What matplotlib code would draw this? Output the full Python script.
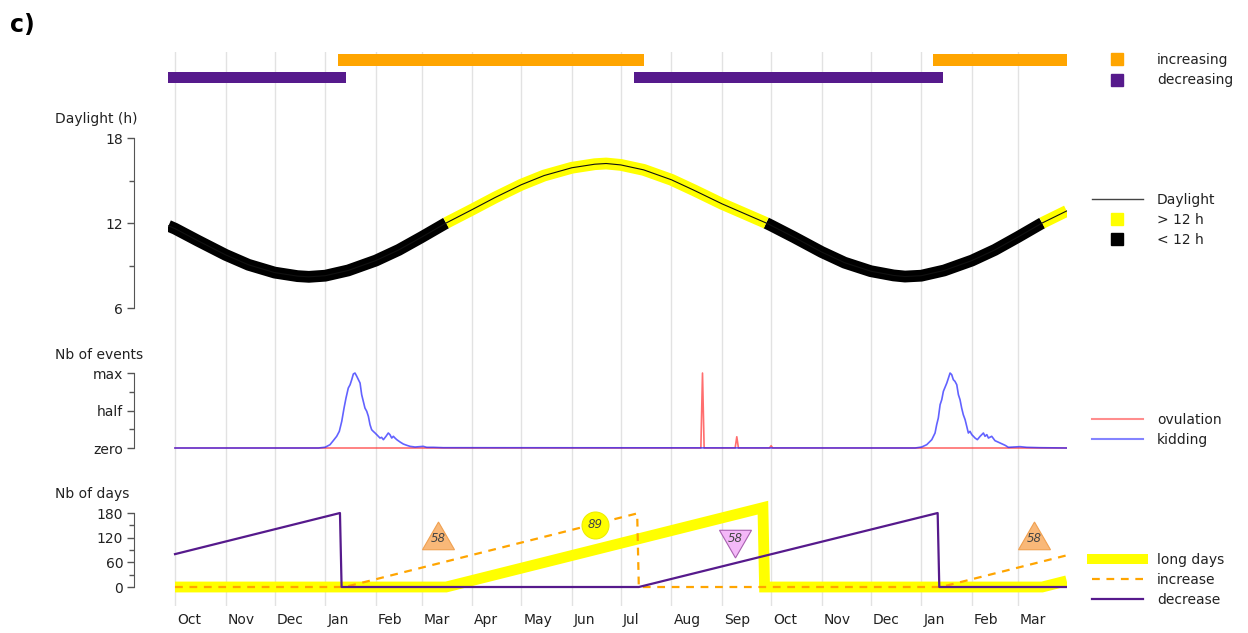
import numpy as np
import matplotlib
matplotlib.use('Agg')
import matplotlib.pyplot as plt
from matplotlib.lines import Line2D
from matplotlib.transforms import ScaledTranslation

# ---------------- data ----------------
T0 = np.datetime64('2021-10-01')          # day 0 of the x axis

def days(dates):
    return (np.array(dates, dtype='datetime64[D]') - T0).astype(float)

month_labels = ['Oct', 'Nov', 'Dec', 'Jan', 'Feb', 'Mar', 'Apr', 'May', 'Jun',
                'Jul', 'Aug', 'Sep', 'Oct', 'Nov', 'Dec', 'Jan', 'Feb', 'Mar']
month_starts = np.arange(np.datetime64('2021-10'), np.datetime64('2023-04'),
                         dtype='datetime64[M]').astype('datetime64[D]')

# phase bars
inc_start = ['2022-01-09', '2023-01-08']
inc_end = ['2022-07-15', '2023-03-31']
dec_start = ['2021-09-27', '2022-07-09']
dec_end = ['2022-01-14', '2023-01-14']

# daylight (hours)
daylight_dates = ['2021-09-27', '2021-10-01', '2021-10-15', '2021-11-01', '2021-11-15',
                  '2021-12-01', '2021-12-15', '2021-12-22', '2022-01-01', '2022-01-15',
                  '2022-02-01', '2022-02-15', '2022-03-01', '2022-03-16', '2022-04-01',
                  '2022-04-15', '2022-05-01', '2022-05-15', '2022-06-01', '2022-06-15',
                  '2022-06-22', '2022-07-01', '2022-07-15', '2022-08-01', '2022-08-15',
                  '2022-09-01', '2022-09-15', '2022-09-28', '2022-10-01', '2022-10-15',
                  '2022-11-01', '2022-11-15', '2022-12-01', '2022-12-15', '2022-12-22',
                  '2023-01-01', '2023-01-15', '2023-02-01', '2023-02-15', '2023-03-01',
                  '2023-03-16', '2023-03-31']
daylight_hours = [11.8, 11.6, 10.75, 9.75, 9.05,
                  8.5, 8.25, 8.2, 8.28, 8.65,
                  9.35, 10.1, 11.0, 12.0, 12.95,
                  13.8, 14.7, 15.35, 15.9, 16.15,
                  16.2, 16.1, 15.75, 15.05, 14.3,
                  13.35, 12.65, 12.0, 11.83, 11.0,
                  9.95, 9.2, 8.6, 8.3, 8.22,
                  8.28, 8.65, 9.35, 10.1, 11.0,
                  12.0, 12.85]

# events (fraction of max); x = days since 2021-10-01
ovulation_day = [0, 322, 323, 324, 343, 344, 345, 364, 365, 366, 546]
ovulation_val = [0, 0, 1.0, 0, 0, 0.15, 0, 0, 0.03, 0, 0]

kid1_day = [87.8, 91.9, 94.9, 96.9, 99.0, 100.6, 102.1, 103.5, 104.7, 106.1,
            107.2, 108.2, 109.2, 110.2, 111.3, 112.3, 113.3, 114.3, 115.3, 116.3,
            117.4, 118.4, 119.4, 120.4, 121.4, 122.5, 123.5, 124.5, 125.5, 126.5,
            127.6, 129.2, 130.6, 131.6, 132.7, 133.7, 134.7, 135.8, 137.8, 139.8,
            141.9, 143.9, 147.0, 152.0, 154.1, 158.2, 164.3]
kid1_val = [0, 0.01, 0.044, 0.098, 0.156, 0.222, 0.356, 0.533, 0.667, 0.8,
            0.844, 0.911, 0.987, 1.0, 0.956, 0.911, 0.867, 0.711, 0.622, 0.533,
            0.489, 0.422, 0.311, 0.244, 0.222, 0.2, 0.178, 0.156, 0.133, 0.142,
            0.111, 0.156, 0.2, 0.178, 0.133, 0.156, 0.133, 0.111, 0.08, 0.053,
            0.036, 0.022, 0.013, 0.022, 0.009, 0.009, 0.004]
kid2_day = [453.2, 457.2, 460.3, 463.4, 465.4, 466.4, 467.4, 468.5, 469.5, 470.5,
            471.5, 472.6, 473.6, 474.6, 475.6, 476.6, 477.6, 478.7, 479.7, 480.7,
            481.7, 482.7, 483.8, 484.8, 485.8, 486.8, 487.9, 488.9, 489.9, 491.3,
            493.0, 495.0, 496.0, 497.1, 498.1, 500.1, 502.1, 505.2, 508.3, 510.3,
            513.4, 517.4, 521.5, 529.7]
kid2_val = [0, 0.013, 0.044, 0.111, 0.2, 0.311, 0.4, 0.578, 0.644, 0.756,
            0.809, 0.867, 0.933, 1.0, 0.978, 0.911, 0.889, 0.844, 0.711, 0.644,
            0.533, 0.444, 0.378, 0.289, 0.2, 0.222, 0.178, 0.156, 0.133, 0.111,
            0.156, 0.2, 0.156, 0.178, 0.133, 0.156, 0.098, 0.067, 0.036, 0.009,
            0.013, 0.018, 0.009, 0.004]

# counters (number of days)
long_dates = ['2021-10-01', '2022-03-16', '2022-09-26', '2022-09-27', '2023-03-16', '2023-03-31']
long_vals = [0, 0, 193, 0, 0, 15]
inc_dates = ['2021-10-01', '2022-01-13', '2022-07-11', '2022-07-12', '2023-01-13', '2023-03-31']
inc_vals = [0, 0, 179, 0, 0, 77]
dec_dates = ['2021-10-01', '2022-01-10', '2022-01-11', '2022-07-12', '2023-01-11', '2023-01-12', '2023-03-31']
dec_vals = [80, 180, 0, 0, 180, 0, 0]

# annotations in the counter panel
tri_up_dates = ['2022-03-11', '2023-03-11']
tri_up_vals = [115, 115]
tri_up_text = ['58', '58']
circle_date = ['2022-06-15']
circle_val = [150]
circle_text = ['89']
tri_dn_date = ['2022-09-09']
tri_dn_val = [116]
tri_dn_text = ['58']

# ---------------- styling ----------------
ORANGE = '#ffa500'
PURPLE = '#561a8c'
YELLOW = '#ffff00'
W, H = 1248, 633
X_MIN, X_MAX = -4.3, 546.2
FS = 10
TXT = '#222222'
SPINE = '#555555'

fig = plt.figure(figsize=(W / 100, H / 100), dpi=100)


def add_ax(l, t, r, b):
    ax = fig.add_axes([l / W, 1 - b / H, (r - l) / W, (b - t) / H])
    ax.set_xlim(X_MIN, X_MAX)
    ax.set_facecolor('none')
    return ax


def style_left(ax, bounds, majors, labels, minors):
    for s in ['top', 'right', 'bottom']:
        ax.spines[s].set_visible(False)
    ax.spines['left'].set_position(('outward', 34 * 0.72))
    ax.spines['left'].set_bounds(*bounds)
    ax.spines['left'].set_color(SPINE)
    ax.set_yticks(majors, labels)
    ax.set_yticks(minors, minor=True)
    ax.set_xticks([])
    ax.tick_params(axis='y', which='major', length=4.8, width=1, color=SPINE,
                   labelsize=FS, labelcolor=TXT, pad=3)
    ax.tick_params(axis='y', which='minor', length=3.3, width=1, color=SPINE)


# background grid / month axis
mdays = days(month_starts)
bg = add_ax(168, 52, 1067, 606)
bg.set_facecolor('white')
bg.set_ylim(0, 1)
for m in mdays:
    bg.axvline(m, color='#e2e2e2', lw=1.0, zorder=0)
for s in bg.spines.values():
    s.set_visible(False)
bg.set_yticks([])
bg.set_xticks(mdays, month_labels)
bg.tick_params(axis='x', length=0, pad=5, labelsize=FS, labelcolor=TXT)
off = ScaledTranslation(2 / 100, 0, fig.dpi_scale_trans)
for lab in bg.get_xticklabels():
    lab.set_horizontalalignment('left')
    lab.set_transform(lab.get_transform() + off)

# phase bars
axb = add_ax(168, 52, 1067, 90)
axb.set_ylim(0, 38)
ist, ien = days(inc_start), days(inc_end)
dst, den = days(dec_start), days(dec_end)
axb.barh([30] * len(ist), ien - ist, left=ist, height=11.5, color=ORANGE)
axb.barh([12.5] * len(dst), den - dst, left=dst, height=11.5, color=PURPLE)
axb.axis('off')

# daylight
axd = add_ax(168, 130, 1067, 315)
axd.set_ylim(5.506, 18.565)
dx = days(daylight_dates)
dv = np.array(daylight_hours)
axd.plot(dx, np.where(dv <= 12, dv, np.nan), color='black', lw=8.5,
         solid_capstyle='butt', solid_joinstyle='round')
axd.plot(dx, np.where(dv >= 12, dv, np.nan), color=YELLOW, lw=8.5,
         solid_capstyle='butt', solid_joinstyle='round')
axd.plot(dx, dv, color='#111111', lw=0.8)
style_left(axd, (6, 18), [6, 12, 18], ['6', '12', '18'], [9, 15])

# events
axe = add_ax(168, 365, 1067, 460)
axe.set_ylim(-0.16, 1.107)
axe.plot(ovulation_day, ovulation_val, color='#ff3030', alpha=0.7, lw=1.2)
kx = [0] + kid1_day + kid2_day + [546]
kv = [0] + kid1_val + kid2_val + [0]
axe.plot(kx, kv, color='#2020ff', alpha=0.7, lw=1.2)
style_left(axe, (0, 1), [0, 0.5, 1], ['zero', 'half', 'max'], [0.25, 0.75])

# counters
axc = add_ax(168, 495, 1067, 606)
axc.set_ylim(-46.2, 223.8)
axc.plot(days(long_dates), long_vals, color=YELLOW, lw=7.8, solid_capstyle='butt',
         solid_joinstyle='miter', zorder=2)
axc.plot(days(inc_dates), inc_vals, color=ORANGE, lw=1.6, ls=(0, (3.5, 3.0)), zorder=3)
axc.plot(days(dec_dates), dec_vals, color=PURPLE, lw=1.6, zorder=4)
style_left(axc, (0, 180), [0, 60, 120, 180], ['0', '60', '120', '180'], [30, 90, 150])

axc.plot(days(tri_up_dates), tri_up_vals, ls='none', marker=(3, 0, 0), ms=26.6,
         mfc='#f9b878', mec='#f0a050', mew=0.8, zorder=6, clip_on=False)
for x, y, t in zip(days(tri_up_dates), tri_up_vals, tri_up_text):
    axc.text(x, y + 3, t, ha='center', va='center', fontsize=8.5, style='italic',
             color='#444444', zorder=7)
axc.plot(days(circle_date), circle_val, ls='none', marker='o', ms=19.4,
         mfc=YELLOW, mec='#eeee00', mew=0.8, zorder=6, clip_on=False)
for x, y, t in zip(days(circle_date), circle_val, circle_text):
    axc.text(x, y + 2, t, ha='center', va='center', fontsize=8.5, style='italic',
             color='#444444', zorder=7)
axc.plot(days(tri_dn_date), tri_dn_val, ls='none', marker=(3, 0, 180), ms=26.6,
         mfc='#f4b8f8', mec='#a860b0', mew=0.8, zorder=6, clip_on=False)
for x, y, t in zip(days(tri_dn_date), tri_dn_val, tri_dn_text):
    axc.text(x, y + 3, t, ha='center', va='center', fontsize=8.5, style='italic',
             color='#444444', zorder=7)

# axis titles
fig.text(55 / W, 1 - 119 / H, 'Daylight (h)', ha='left', va='center', fontsize=FS, color=TXT)
fig.text(55 / W, 1 - 355 / H, 'Nb of events', ha='left', va='center', fontsize=FS, color=TXT)
fig.text(55 / W, 1 - 494 / H, 'Nb of days', ha='left', va='center', fontsize=FS, color=TXT)
fig.text(10 / W, 1 - 25 / H, 'c)', ha='left', va='center', fontsize=17, fontweight='bold')


# legends
def add_legend(handles, labels, yc):
    leg = fig.legend(handles, labels, loc='center left', bbox_to_anchor=(1092 / W, 1 - yc / H),
                     frameon=False, handlelength=3.67, handletextpad=1.0, labelspacing=0.45,
                     borderpad=0, borderaxespad=0, fontsize=FS)
    for t in leg.get_texts():
        t.set_color(TXT)
    return leg


sq = dict(marker='s', ls='none', markersize=8.6)
add_legend([Line2D([], [], color=ORANGE, **sq), Line2D([], [], color=PURPLE, **sq)],
           ['increasing', 'decreasing'], 70.3)
add_legend([Line2D([], [], color='#444444', lw=1.0),
            Line2D([], [], color=YELLOW, **sq), Line2D([], [], color='black', **sq)],
           ['Daylight', '> 12 h', '< 12 h'], 220)
add_legend([Line2D([], [], color='#ff3030', alpha=0.55, lw=1.5),
            Line2D([], [], color='#2020ff', alpha=0.55, lw=1.5)],
           ['ovulation', 'kidding'], 430)
add_legend([Line2D([], [], color=YELLOW, lw=7.2),
            Line2D([], [], color=ORANGE, lw=1.6, ls=(0, (3.5, 3.0))),
            Line2D([], [], color=PURPLE, lw=1.6)],
           ['long days', 'increase', 'decrease'], 580)

fig.savefig('out.png', dpi=100)
